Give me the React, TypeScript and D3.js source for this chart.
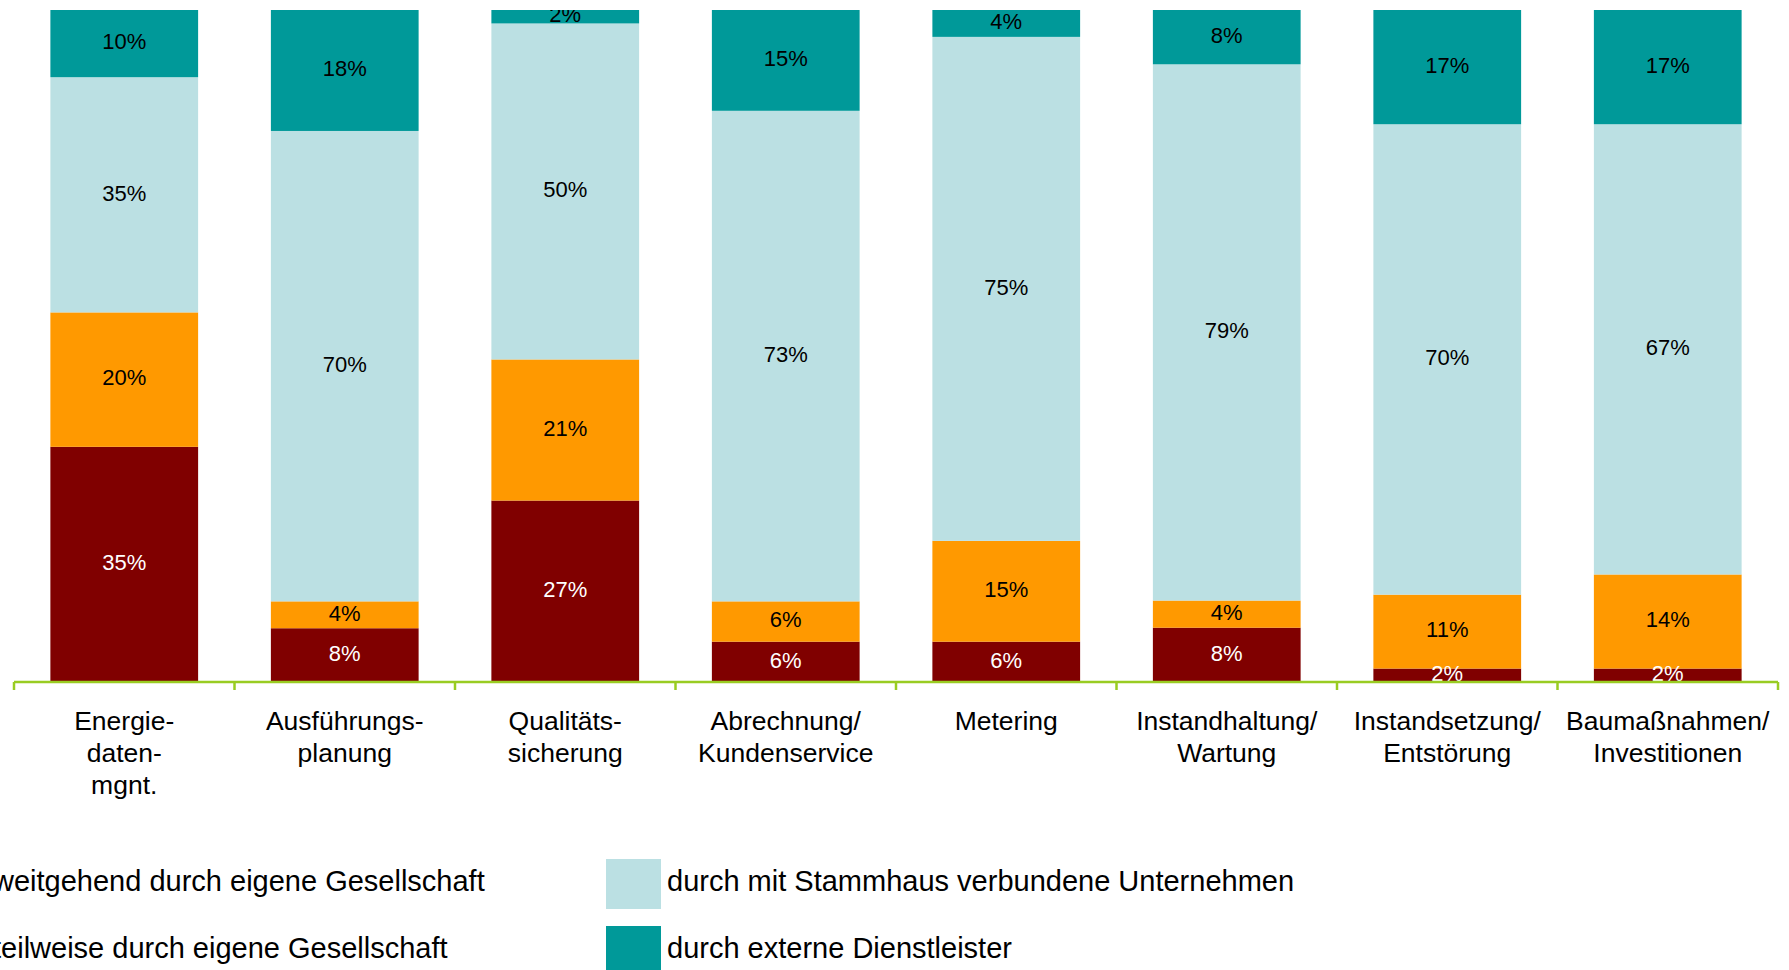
import React from "react";
import * as d3 from "d3";

const categories = [
  "Energie-\ndaten-\nmgnt.",
  "Ausführungs-\nplanung",
  "Qualitäts-\nsicherung",
  "Abrechnung/\nKundenservice",
  "Metering",
  "Instandhaltung/\nWartung",
  "Instandsetzung/\nEntstörung",
  "Baumaßnahmen/\nInvestitionen",
];

const seriesNames = [
  "weitgehend durch eigene Gesellschaft",
  "teilweise durch eigene Gesellschaft",
  "durch mit Stammhaus verbundene Unternehmen",
  "durch externe Dienstleister",
];

const weitgehend = [35, 8, 27, 6, 6, 8, 2, 2];
const teilweise = [20, 4, 21, 6, 15, 4, 11, 14];
const stammhaus = [35, 70, 50, 73, 75, 79, 70, 67];
const extern = [10, 18, 2, 15, 4, 8, 17, 17];

const colors = ["#800000", "#FF9900", "#BBE0E3", "#009999"];
const labelColors = ["#ffffff", "#000000", "#000000", "#000000"];

const W = 1789;
const H = 970;
const FONT = "'Liberation Sans', Arial, sans-serif";

export default function App() {
  const series = [weitgehend, teilweise, stammhaus, extern];
  const rows = categories.map((c, i) => ({
    cat: c,
    s0: series[0][i],
    s1: series[1][i],
    s2: series[2][i],
    s3: series[3][i],
  }));
  const keys = ["s0", "s1", "s2", "s3"];
  const stacked = d3
    .stack<any>()
    .keys(keys)
    .offset(d3.stackOffsetExpand)(rows);

  const x = d3
    .scaleBand<string>()
    .domain(categories)
    .range([14, 1778])
    .paddingInner(0.33)
    .paddingOuter(0.165);
  const y = d3.scaleLinear().domain([0, 1]).range([682, 10]);

  const step = x.step();
  const tickXs = d3.range(categories.length + 1).map((i) => 14 + i * step);

  return (
    <svg
      width={W}
      height={H}
      style={{ position: "fixed", left: 0, top: 0, background: "#fff" }}
      fontFamily={FONT}
    >
      <defs>
        <clipPath id="plotClip">
          <rect x={0} y={y(1)} width={W} height={y(0) - y(1)} />
        </clipPath>
      </defs>
      <g clipPath="url(#plotClip)">
        {stacked.map((layer, si) => (
          <g key={si}>
            {layer.map((d, ci) => {
              const x0 = x(categories[ci]) as number;
              const y0 = y(d[1]);
              const y1 = y(d[0]);
              return (
                <rect
                  key={ci}
                  x={x0}
                  y={y0}
                  width={x.bandwidth()}
                  height={y1 - y0}
                  fill={colors[si]}
                />
              );
            })}
          </g>
        ))}
        {stacked.map((layer, si) => (
          <g key={"l" + si}>
            {layer.map((d, ci) => {
              const cx = (x(categories[ci]) as number) + x.bandwidth() / 2;
              const cy = (y(d[0]) + y(d[1])) / 2;
              return (
                <text
                  key={ci}
                  x={cx}
                  y={cy}
                  dy="0.26em"
                  textAnchor="middle"
                  fontSize={22}
                  fill={labelColors[si]}
                >
                  {series[si][ci]}%
                </text>
              );
            })}
          </g>
        ))}
      </g>

      {/* axis */}
      <line x1={14} x2={1778} y1={682} y2={682} stroke="#99CC22" strokeWidth={2.5} />
      {tickXs.map((tx, i) => (
        <line key={i} x1={tx} x2={tx} y1={682} y2={690} stroke="#99CC22" strokeWidth={2.5} />
      ))}

      {categories.map((c, i) => {
        const cx = (x(c) as number) + x.bandwidth() / 2;
        return (
          <text key={i} textAnchor="middle" fontSize={26.5} fill="#000">
            {c.split("\n").map((line, li) => (
              <tspan key={li} x={cx} y={730 + li * 32}>
                {line}
              </tspan>
            ))}
          </text>
        );
      })}

      {/* legend */}
      {seriesNames.map((name, i) => {
        const col = i < 2 ? 0 : 1;
        const row = i % 2;
        const sx = col === 0 ? -68 : 606;
        const sy = 859 + row * 67;
        return (
          <g key={i}>
            <rect x={sx} y={sy} width={55} height={50} fill={colors[i]} />
            <text x={sx + 61} y={sy + 32} fontSize={29} fill="#000">
              {name}
            </text>
          </g>
        );
      })}
    </svg>
  );
}
